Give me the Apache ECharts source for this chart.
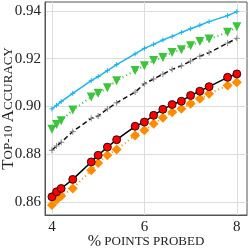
<!DOCTYPE html>
<html><head><meta charset="utf-8">
<script src="https://cdn.jsdelivr.net/npm/echarts@6/dist/echarts.min.js"></script>
<style>html,body{margin:0;padding:0;background:#fff}#c{width:249px;height:249px}</style>
</head><body><div id="c"></div>
<script>
const xs = [4.0, 4.1, 4.2, 4.45, 4.85, 5.0, 5.2, 5.4, 5.8, 6.0, 6.2, 6.4, 6.6, 6.8, 7.0, 7.2, 7.4, 7.8, 8.0];
const redVals = [0.8622,0.8643,0.8657,0.8695,0.8768,0.8796,0.8830,0.8861,0.8917,0.8935,0.8963,0.8988,0.9008,0.9022,0.9046,0.9064,0.9083,0.9122,0.9136];
const orangeVals = [0.8588,0.8610,0.8625,0.8657,0.8733,0.8764,0.8796,0.8820,0.8879,0.8900,0.8928,0.8953,0.8976,0.8990,0.9011,0.9032,0.9053,0.9088,0.9101];
const greenVals = [0.8905,0.8925,0.8940,0.8985,0.9040,0.9055,0.9078,0.9108,0.9150,0.9170,0.9192,0.9205,0.9226,0.9237,0.9254,0.9272,0.9282,0.9310,0.9333];
const blackVals = [0.8817,0.8835,0.8850,0.8895,0.8950,0.8960,0.8990,0.9015,0.9060,0.9095,0.9115,0.9135,0.9155,0.9170,0.9190,0.9210,0.9225,0.9265,0.9285];
const blueVals = [0.8990,0.9005,0.9020,0.9055,0.9108,0.9125,0.9150,0.9175,0.9220,0.9243,0.9260,0.9278,0.9293,0.9310,0.9325,0.9340,0.9355,0.9380,0.9397];
const xTicks = [4, 6, 8];
const yTicks = [0.86, 0.88, 0.90, 0.92, 0.94];

const pair = v => xs.map((x, i) => [x, v[i]]);
const F = 'Liberation Serif, DejaVu Serif, serif';
const plus = 'path://M-1,0L1,0M0,-1L0,1';
const chart = echarts.init(document.getElementById('c'));
chart.setOption({
  animation: false,
  grid: {left: 45, right: 2, top: 2, bottom: 34, show: true, borderColor: '#555', borderWidth: 1,
         containLabel: false, outerBoundsMode: 'none'},
  xAxis: {
    type: 'value', min: 3.85, max: 8.22,
    axisLine: {show: true, lineStyle: {color: '#555'}},
    axisTick: {show: false, customValues: xTicks},
    axisLabel: {customValues: xTicks, color: '#222', fontFamily: F, fontSize: 15, margin: 5},
    splitLine: {show: true, lineStyle: {color: '#ddd', width: 1}},
    name: '{a|%} {b|POINTS PROBED}', nameLocation: 'middle', nameGap: 19, nameMoveOverlap: false,
    nameTextStyle: {rich: {a: {fontFamily: F, fontSize: 16, color: '#222'}, b: {fontFamily: F, fontSize: 13, color: '#222'}}}
  },
  yAxis: {
    type: 'value', min: 0.8546, max: 0.9437,
    axisLine: {show: true, lineStyle: {color: '#555'}},
    axisTick: {show: false, customValues: yTicks},
    axisLabel: {customValues: yTicks, color: '#222', fontFamily: F, fontSize: 15, margin: 4, formatter: v => v.toFixed(2)},
    splitLine: {show: true, lineStyle: {color: '#ddd', width: 1}},
    name: '{a|T}{b|OP-10 }{a|A}{b|CCURACY}', nameLocation: 'middle', nameGap: 28, nameRotate: 90, nameMoveOverlap: false,
    nameTextStyle: {rich: {a: {fontFamily: F, fontSize: 17, color: '#222'}, b: {fontFamily: F, fontSize: 13, color: '#222'}}}
  },
  series: [
    {type: 'line', data: pair(blueVals), symbol: plus, symbolSize: 5,
     lineStyle: {color: '#1ab4f5', width: 1.5}, itemStyle: {color: '#1ab4f5', borderColor: '#1ab4f5', borderWidth: 1}},
    {type: 'line', data: pair(greenVals), symbol: 'triangle', symbolRotate: 180, symbolSize: 9,
     lineStyle: {color: '#3cc43c', width: 2, type: [1, 3]}, itemStyle: {color: '#3cc43c'}},
    {type: 'line', data: pair(blackVals), symbol: plus, symbolSize: 6,
     lineStyle: {color: '#111', width: 1.5, type: [5, 3]}, itemStyle: {color: '#888', borderColor: '#888', borderWidth: 1}},
    {type: 'line', data: pair(orangeVals), symbol: 'diamond', symbolSize: 10,
     lineStyle: {color: '#ff8c00', width: 2, type: [1, 3]}, itemStyle: {color: '#ff8c00'}},
    {type: 'line', data: pair(redVals), symbol: 'circle', symbolSize: 8,
     lineStyle: {color: '#000', width: 1.5}, itemStyle: {color: '#ff0000', borderColor: '#000', borderWidth: 0.8}}
  ]
});
</script></body></html>
